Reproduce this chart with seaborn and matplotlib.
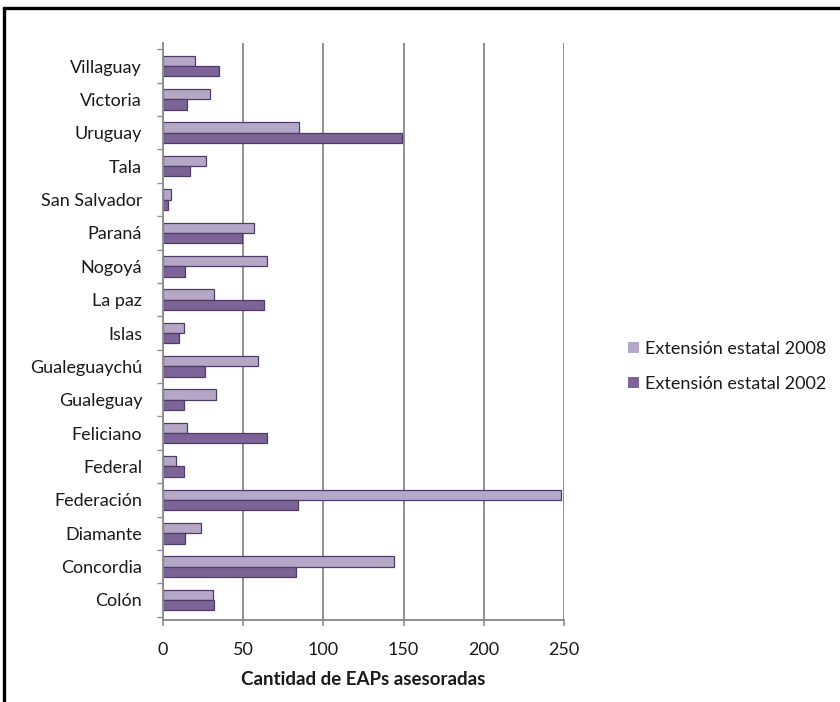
import matplotlib
matplotlib.use("Agg")
import matplotlib.pyplot as plt
import seaborn as sns
import pandas as pd
from matplotlib.patches import Rectangle
from matplotlib.ticker import FixedLocator

# ---- data ----
departamentos = ["Colón", "Concordia", "Diamante", "Federación", "Federal",
                 "Feliciano", "Gualeguay", "Gualeguaychú", "Islas", "La paz",
                 "Nogoyá", "Paraná", "San Salvador", "Tala", "Uruguay",
                 "Victoria", "Villaguay"]
ext_2008 = [31, 144, 24, 248, 8, 15, 33, 59, 13, 32, 65, 57, 5, 27, 85, 29, 20]
ext_2002 = [32, 83, 14, 84, 13, 65, 13, 26, 10, 63, 14, 49, 3, 17, 149, 15, 35]
series_names = ["Extensión estatal 2008", "Extensión estatal 2002"]
x_ticks = [0, 50, 100, 150, 200, 250]
x_label = "Cantidad de EAPs asesoradas"

df = pd.DataFrame({
    "Departamento": departamentos * 2,
    "Valor": ext_2008 + ext_2002,
    "Serie": [series_names[0]] * len(departamentos) + [series_names[1]] * len(departamentos),
})

sns.set_theme(style="white")
plt.rcParams["font.family"] = ["Lato", "DejaVu Sans"]

W, H = 840, 702
fig = plt.figure(figsize=(W / 100, H / 100), dpi=100)
ax = fig.add_axes([163 / W, 1 - 620 / H, (564 - 163) / W, (620 - 43) / H])

light = "#B3A3CB"
dark = "#7B5C9E"
order = departamentos[::-1]  # Villaguay at top
sns.barplot(data=df, y="Departamento", x="Valor", hue="Serie", order=order,
            hue_order=series_names, palette=[light, dark], width=0.62,
            edgecolor="#4f3b68", linewidth=0.9, ax=ax, orient="h")

ax.set_xlim(0, 250)
ax.set_xticks(x_ticks)
ax.set_ylim(len(order) - 0.4, -0.69)
ax.set_xlabel(x_label, fontsize=13.5, fontweight="bold", color="#1a1a1a", labelpad=9)
ax.set_ylabel("")

ax.xaxis.grid(True, color="#8f8f8f", linewidth=1.4)
ax.yaxis.grid(False)
ax.set_axisbelow(True)

for side in ["top", "right"]:
    ax.spines[side].set_visible(False)
for side in ["left", "bottom"]:
    ax.spines[side].set_color("#8f8f8f")
    ax.spines[side].set_linewidth(1.4)

ax.tick_params(axis="x", length=4, width=1.2, color="#8f8f8f", pad=12,
               labelsize=13, labelcolor="#1a1a1a", direction="out", bottom=True)
ax.tick_params(axis="y", which="major", length=0, pad=15, labelsize=13,
               labelcolor="#1a1a1a")
ax.yaxis.set_minor_locator(FixedLocator([i - 0.5 for i in range(len(order) + 1)]))
ax.tick_params(axis="y", which="minor", length=4, width=1.0, color="#8f8f8f",
               direction="out", left=True)

leg = ax.get_legend()
handles = leg.legend_handles
leg.remove()
fig.legend(handles, series_names, loc="center left",
           bbox_to_anchor=(628 / W, 1 - 366.5 / H), frameon=False,
           borderpad=0, borderaxespad=0, handlelength=0.6, handleheight=0.6,
           handletextpad=0.35, labelspacing=1.05, fontsize=13,
           labelcolor="#1a1a1a")
for h in fig.legends[0].legend_handles:
    h.set_edgecolor("none")

# black frame (left and top edges of the original chart border)
fig.add_artist(Rectangle((4 / W, -0.1), 1.2, 1.1 - 8 / H, transform=fig.transFigure,
                         fill=False, edgecolor="black", linewidth=2.4, clip_on=False))

fig.savefig("out.png", dpi=100, facecolor="white")
